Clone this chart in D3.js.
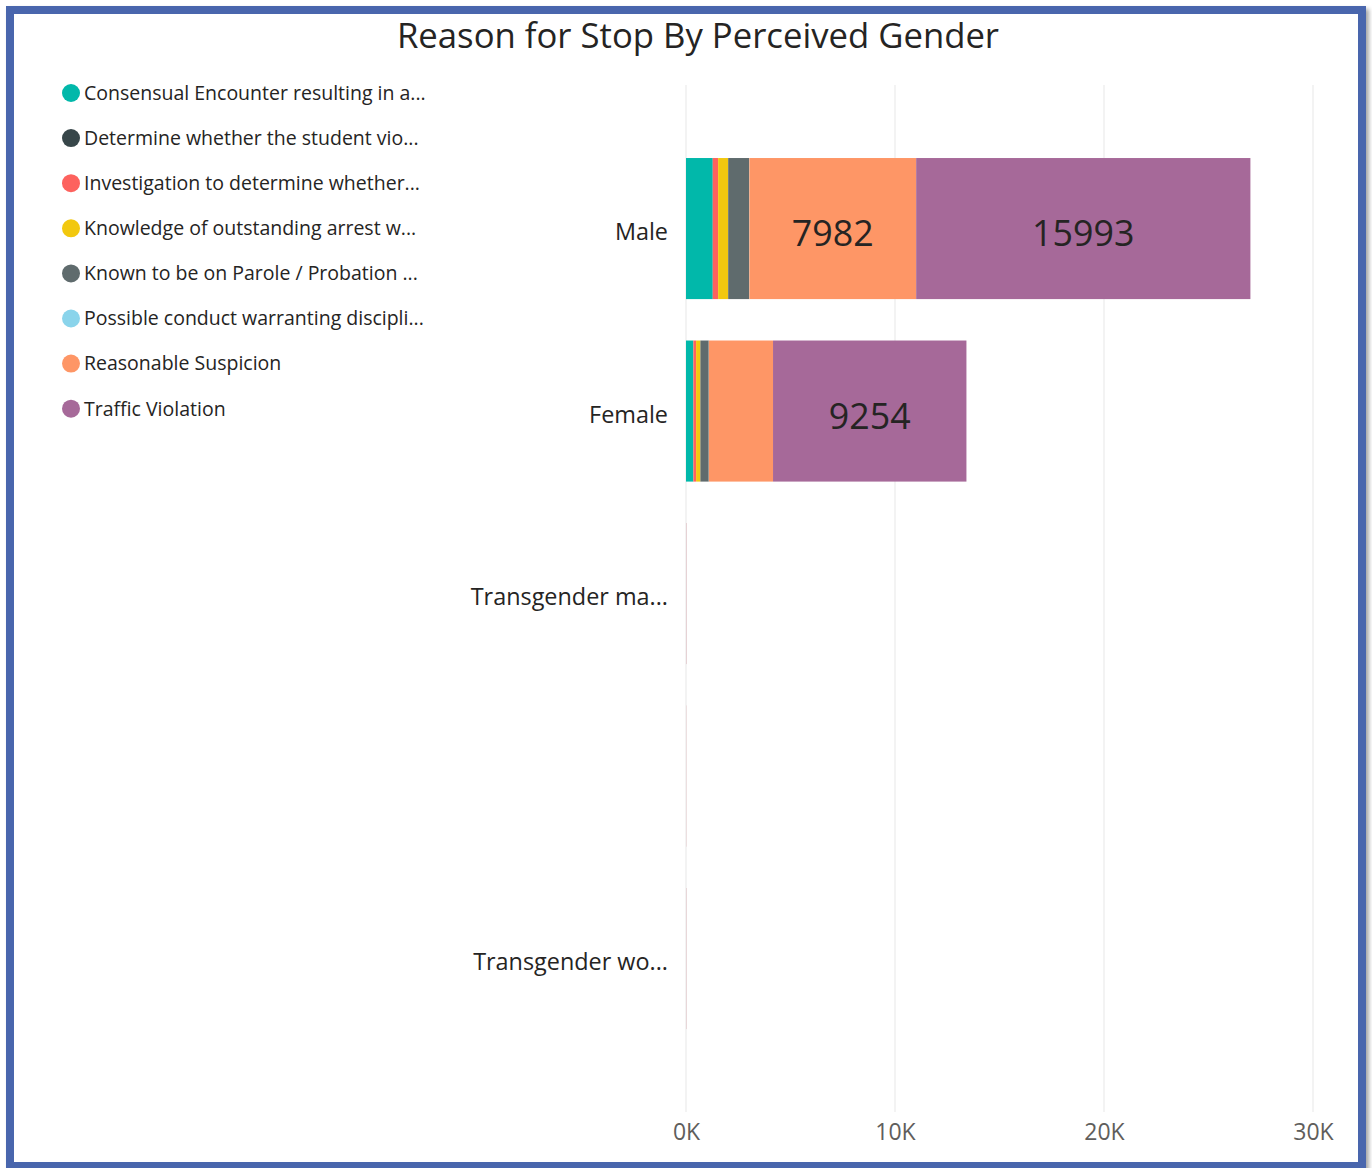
<!DOCTYPE html>
<html>
<head>
<meta charset="utf-8">
<script src="https://cdn.jsdelivr.net/npm/d3@7"></script>
<style>
  html, body { margin: 0; padding: 0; background: #ffffff; }
  svg { display: block; }
  text { font-family: "Open Sans", "Noto Sans", sans-serif; }
</style>
</head>
<body>
<svg id="chart" width="1372" height="1168"></svg>
<script>
// ---- data ----
const categories = ["Male", "Female", "Transgender man", "Gender nonconforming", "Transgender woman"];
const categoryLabels = ["Male", "Female", "Transgender ma...", "", "Transgender wo..."];
const seriesNames = [
  "Consensual Encounter resulting in a...",
  "Determine whether the student vio...",
  "Investigation to determine whether...",
  "Knowledge of outstanding arrest w...",
  "Known to be on Parole / Probation ...",
  "Possible conduct warranting discipli...",
  "Reasonable Suspicion",
  "Traffic Violation"
];
const seriesColors = ["#01B8AA", "#374649", "#FD625E", "#F2C80F", "#5F6B6D", "#8AD4EB", "#FE9666", "#A66999"];
// values per series, in category order
const consensual    = [1275, 350, 0, 0, 0];
const determine     = [8, 3, 0, 0, 0];
const investigation = [255, 130, 0, 0, 0];
const knowledge     = [480, 205, 0, 0, 0];
const knownParole   = [1000, 400, 0, 0, 0];
const possible      = [12, 6, 0, 0, 0];
const reasonable    = [7982, 3070, 6, 4, 5];
const traffic       = [15993, 9254, 8, 5, 7];
const seriesValues = [consensual, determine, investigation, knowledge, knownParole, possible, reasonable, traffic];
const xTicks = [0, 10000, 20000, 30000];

// ---- build table ----
const table = categories.map((c, i) => {
  const row = { category: c };
  seriesNames.forEach((s, j) => { row[s] = seriesValues[j][i]; });
  return row;
});
const stacked = d3.stack().keys(seriesNames)(table);

const svg = d3.select("#chart");

// drop shadow for the frame
const defs = svg.append("defs");
const f = defs.append("filter").attr("id", "shadow").attr("x", "-5%").attr("y", "-5%").attr("width", "110%").attr("height", "110%");
f.append("feDropShadow").attr("dx", 3).attr("dy", 3).attr("stdDeviation", 2).attr("flood-color", "#000").attr("flood-opacity", 0.35);

// frame
svg.append("rect")
  .attr("x", 10).attr("y", 10).attr("width", 1352).attr("height", 1156)
  .attr("fill", "#ffffff").attr("stroke", "#4A66AD").attr("stroke-width", 8)
  .attr("filter", "url(#shadow)");

// title
svg.append("text")
  .attr("x", 698).attr("y", 48)
  .attr("text-anchor", "middle")
  .attr("font-size", 34.7)
  .attr("fill", "#252423")
  .text("Reason for Stop By Perceived Gender");

// scales
const x = d3.scaleLinear().domain([0, 30000]).range([686, 1313]);
const y = d3.scaleBand().domain(categories).range([116.6, 1070.5]).padding(0.227);

// gridlines
svg.append("g").selectAll("line").data(xTicks).join("line")
  .attr("x1", d => x(d)).attr("x2", d => x(d))
  .attr("y1", 85).attr("y2", 1112)
  .attr("stroke", "#ebebeb").attr("stroke-width", 1.2);

// x axis labels
const xAxis = d3.axisBottom(x).tickValues(xTicks).tickSize(0).tickPadding(0)
  .tickFormat(d => (d / 1000) + "K");
const gx = svg.append("g").attr("transform", "translate(0,1124)").call(xAxis);
gx.select(".domain").remove();
gx.selectAll("text").attr("font-size", 23).attr("fill", "#605E5C").attr("dy", "0.71em")
  .style("font-family", "'Open Sans', sans-serif");

// y axis labels
const yAxis = d3.axisLeft(y).tickSize(0).tickPadding(0)
  .tickFormat((d, i) => categoryLabels[i]);
const gy = svg.append("g").attr("transform", "translate(668,4)").call(yAxis);
gy.select(".domain").remove();
gy.selectAll("text").attr("font-size", 23.4).attr("fill", "#252423").attr("dy", "0.32em")
  .style("font-family", "'Open Sans', sans-serif");

// bars
const layers = svg.append("g").selectAll("g").data(stacked).join("g")
  .attr("fill", (d, i) => seriesColors[i]);
layers.selectAll("rect").data(d => d).join("rect")
  .attr("x", d => x(d[0]))
  .attr("y", d => y(d.data.category))
  .attr("width", d => Math.max(0, x(d[1]) - x(d[0])))
  .attr("height", y.bandwidth());

// data labels (only where they fit)
const labelG = svg.append("g");
stacked.forEach(layer => {
  layer.forEach(d => {
    const v = d[1] - d[0];
    const w = x(d[1]) - x(d[0]);
    if (v <= 0) return;
    const t = labelG.append("text")
      .attr("x", (x(d[0]) + x(d[1])) / 2)
      .attr("y", y(d.data.category) + y.bandwidth() / 2 + 5)
      .attr("dy", "0.35em")
      .attr("text-anchor", "middle")
      .attr("font-size", 35.8)
      .attr("fill", "#252423")
      .text(d3.format("d")(v));
    if (t.node().getComputedTextLength() + 20 > w) t.remove();
  });
});

// legend
const legend = svg.append("g").selectAll("g").data(seriesNames).join("g")
  .attr("transform", (d, i) => `translate(71,${93 + i * 45.1})`);
legend.append("circle").attr("r", 9).attr("fill", (d, i) => seriesColors[i]);
legend.append("text")
  .attr("x", 13).attr("dy", "0.35em")
  .attr("font-size", 19.5)
  .attr("fill", "#252423")
  .text(d => d);
</script>
</body>
</html>
